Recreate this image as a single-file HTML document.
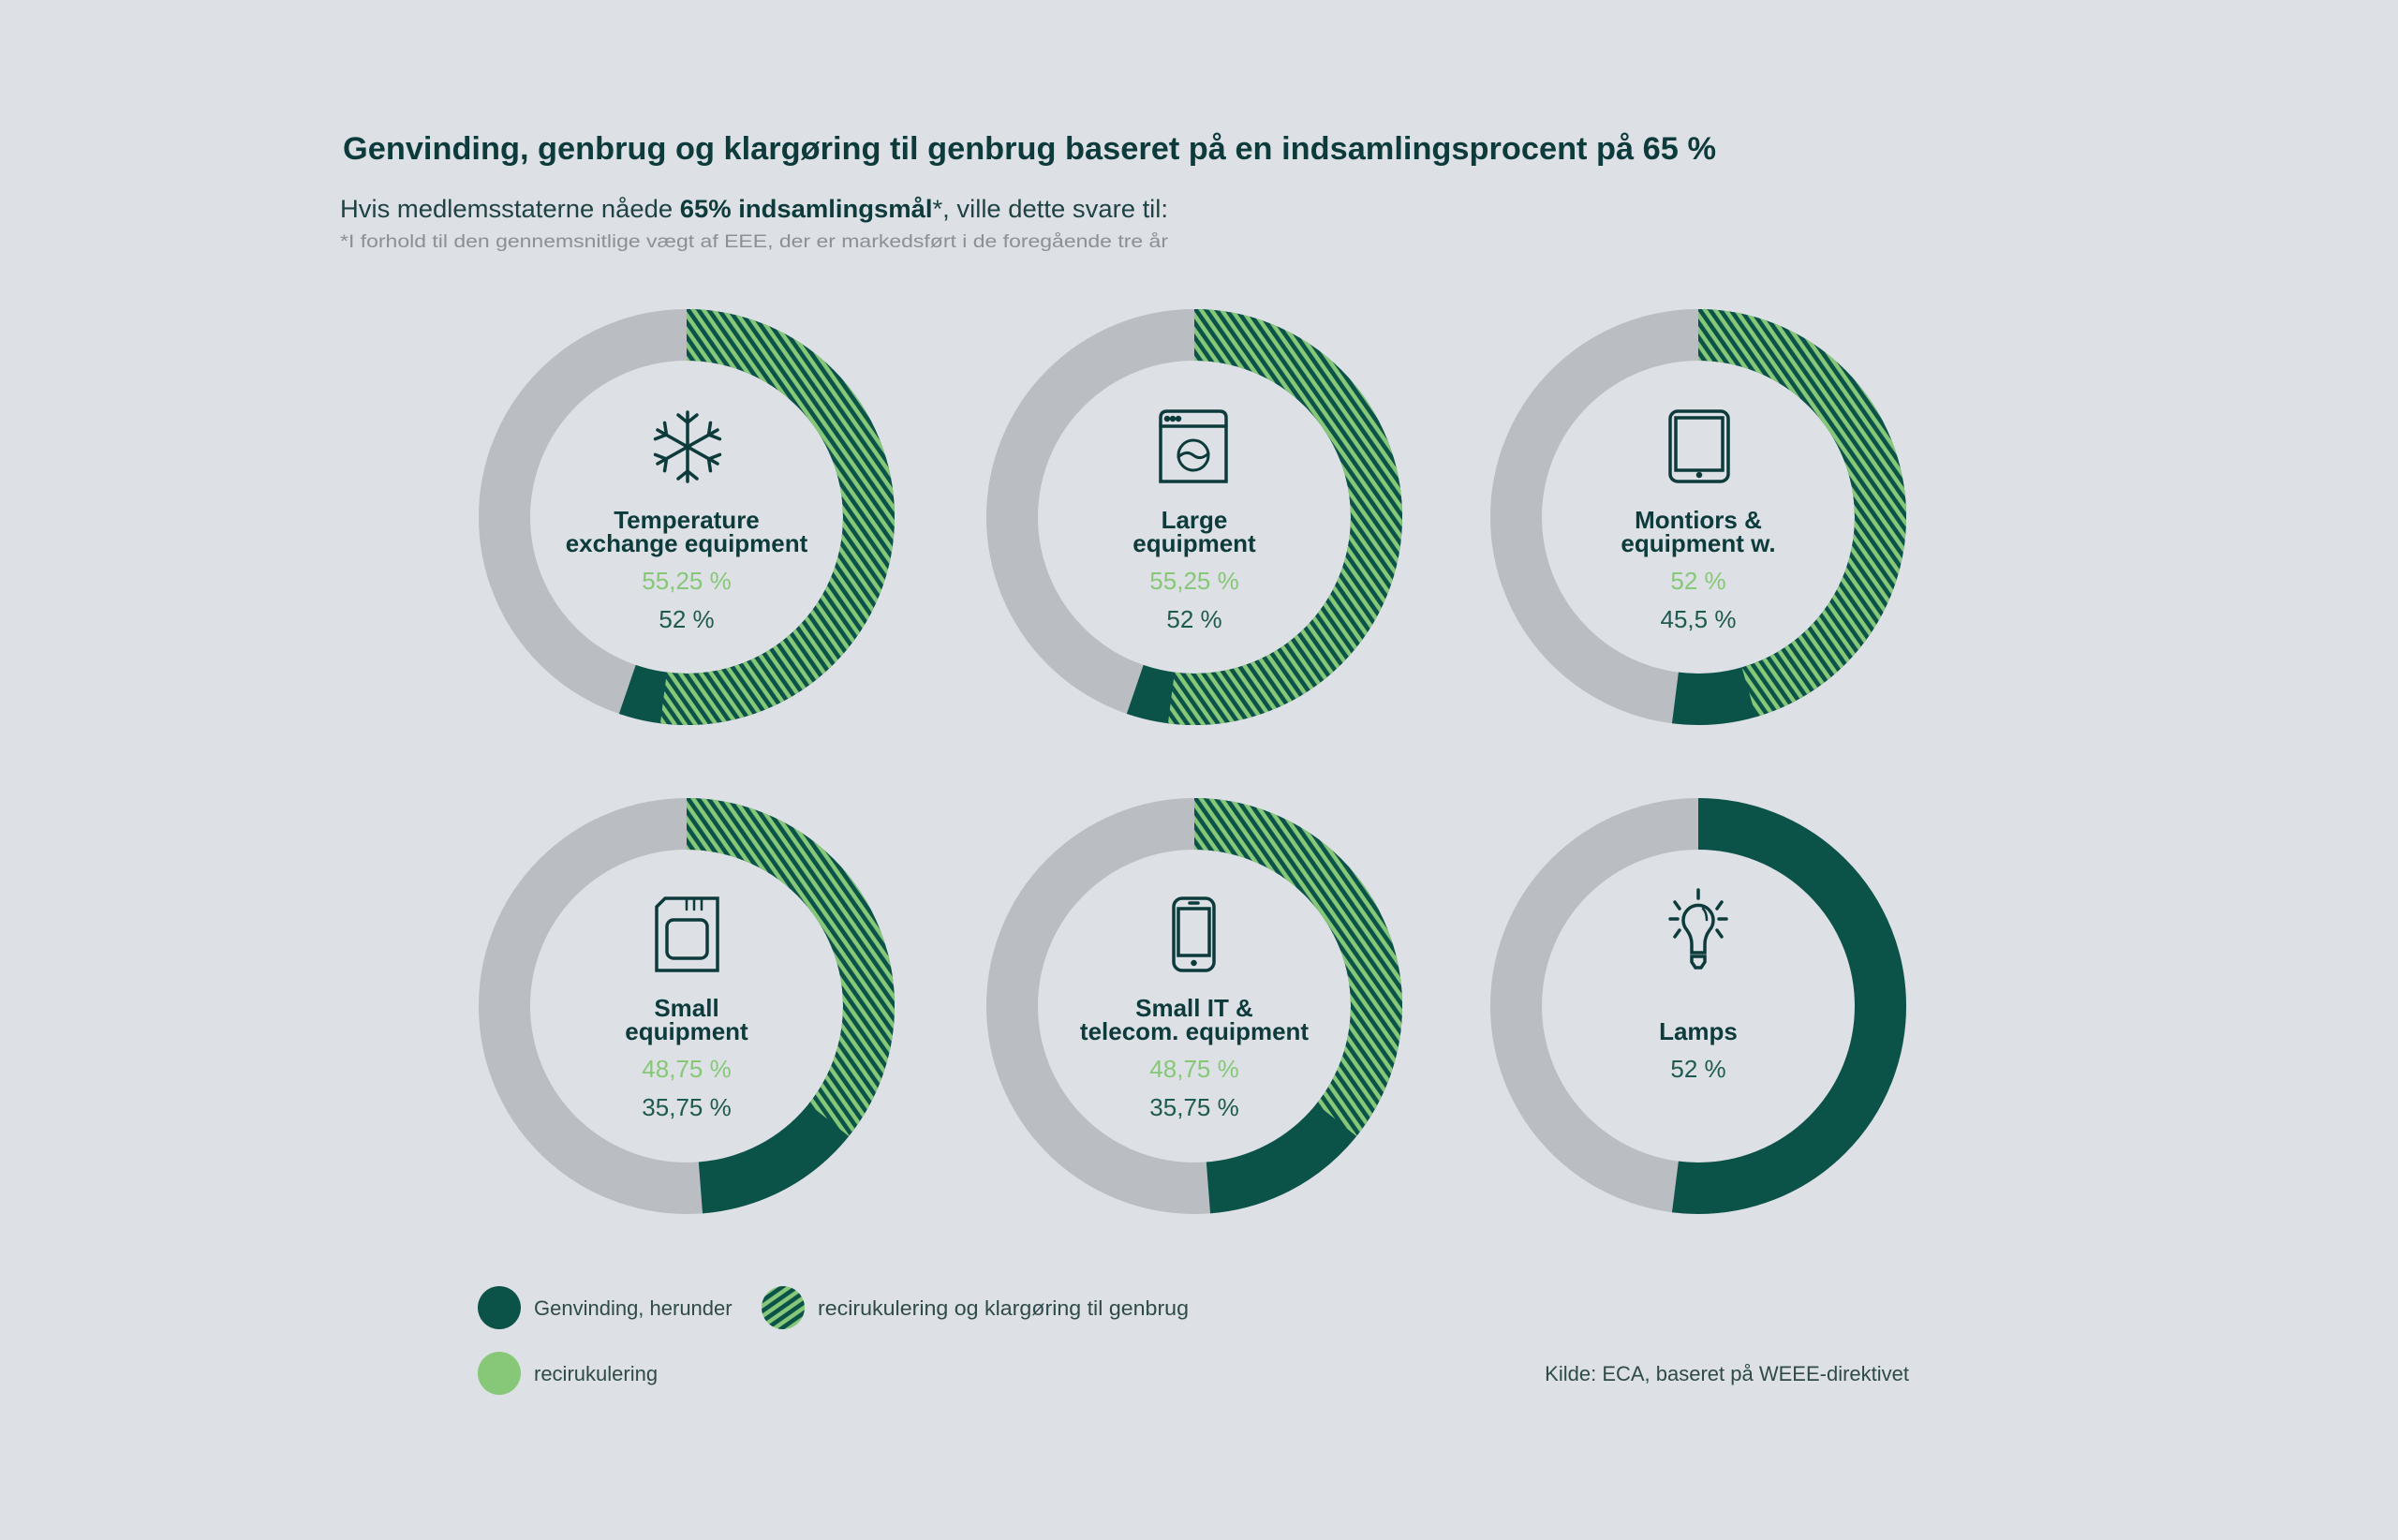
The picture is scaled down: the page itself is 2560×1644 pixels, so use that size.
<!DOCTYPE html>
<html><head><meta charset="utf-8"><style>
html,body{margin:0;padding:0;background:#dde0e4}
svg{display:block}
text{font-family:"Liberation Sans",sans-serif}
</style></head><body>
<svg width="2560" height="1644" viewBox="0 0 2560 1644" xmlns="http://www.w3.org/2000/svg">
<defs>
<pattern id="h" patternUnits="userSpaceOnUse" width="9" height="9" patternTransform="rotate(-35)">
<rect width="9" height="9" fill="#86c878"/><rect width="9" height="4.6" fill="#0b5249"/>
</pattern>
</defs>
<rect width="2560" height="1644" fill="#dde0e4"/>
<text x="366" y="170" font-size="34" font-weight="bold" fill="#0d3b3c" textLength="1466" lengthAdjust="spacingAndGlyphs">Genvinding, genbrug og klargøring til genbrug baseret på en indsamlingsprocent på 65 %</text>
<text x="363" y="232" font-size="27" fill="#1f4244" textLength="884" lengthAdjust="spacingAndGlyphs">Hvis medlemsstaterne nåede <tspan font-weight="bold" fill="#0d3b3c">65% indsamlingsmål</tspan>*, ville dette svare til:</text>
<text x="363" y="264" font-size="19" fill="#8b9095" textLength="884" lengthAdjust="spacingAndGlyphs">*I forhold til den gennemsnitlige vægt af EEE, der er markedsført i de foregående tre år</text>

<g id="donuts" fill="none" stroke-width="55">
<g transform="translate(733,552) rotate(-90)">
<circle r="194.5" stroke="#babdc1"/>
<circle r="194.5" stroke="#0b5249" stroke-dasharray="675.2 1222.08"/>
<circle r="194.5" stroke="url(#h)" stroke-dasharray="635.5 1222.08"/>
</g>
<g transform="translate(1275,552) rotate(-90)">
<circle r="194.5" stroke="#babdc1"/>
<circle r="194.5" stroke="#0b5249" stroke-dasharray="675.2 1222.08"/>
<circle r="194.5" stroke="url(#h)" stroke-dasharray="635.5 1222.08"/>
</g>
<g transform="translate(1813,552) rotate(-90)">
<circle r="194.5" stroke="#babdc1"/>
<circle r="194.5" stroke="#0b5249" stroke-dasharray="635.5 1222.08"/>
<circle r="194.5" stroke="url(#h)" stroke-dasharray="556.0 1222.08"/>
</g>
<g transform="translate(733,1074) rotate(-90)">
<circle r="194.5" stroke="#babdc1"/>
<circle r="194.5" stroke="#0b5249" stroke-dasharray="595.8 1222.08"/>
<circle r="194.5" stroke="url(#h)" stroke-dasharray="436.9 1222.08"/>
</g>
<g transform="translate(1275,1074) rotate(-90)">
<circle r="194.5" stroke="#babdc1"/>
<circle r="194.5" stroke="#0b5249" stroke-dasharray="595.8 1222.08"/>
<circle r="194.5" stroke="url(#h)" stroke-dasharray="436.9 1222.08"/>
</g>
<g transform="translate(1813,1074) rotate(-90)">
<circle r="194.5" stroke="#babdc1"/>
<circle r="194.5" stroke="#0b5249" stroke-dasharray="635.5 1222.08"/>
</g>
</g>

<g text-anchor="middle" font-size="26">
<text x="733" y="564" font-weight="bold" fill="#0d3b3c">Temperature</text>
<text x="733" y="589" font-weight="bold" fill="#0d3b3c">exchange equipment</text>
<text x="733" y="629" fill="#86c878">55,25 %</text>
<text x="733" y="670" fill="#1f5a52">52 %</text>

<text x="1275" y="564" font-weight="bold" fill="#0d3b3c">Large</text>
<text x="1275" y="589" font-weight="bold" fill="#0d3b3c">equipment</text>
<text x="1275" y="629" fill="#86c878">55,25 %</text>
<text x="1275" y="670" fill="#1f5a52">52 %</text>

<text x="1813" y="564" font-weight="bold" fill="#0d3b3c">Montiors &amp;</text>
<text x="1813" y="589" font-weight="bold" fill="#0d3b3c">equipment w.</text>
<text x="1813" y="629" fill="#86c878">52 %</text>
<text x="1813" y="670" fill="#1f5a52">45,5 %</text>

<text x="733" y="1085" font-weight="bold" fill="#0d3b3c">Small</text>
<text x="733" y="1110" font-weight="bold" fill="#0d3b3c">equipment</text>
<text x="733" y="1150" fill="#86c878">48,75 %</text>
<text x="733" y="1191" fill="#1f5a52">35,75 %</text>

<text x="1275" y="1085" font-weight="bold" fill="#0d3b3c">Small IT &amp;</text>
<text x="1275" y="1110" font-weight="bold" fill="#0d3b3c">telecom. equipment</text>
<text x="1275" y="1150" fill="#86c878">48,75 %</text>
<text x="1275" y="1191" fill="#1f5a52">35,75 %</text>

<text x="1813" y="1110" font-weight="bold" fill="#0d3b3c">Lamps</text>
<text x="1813" y="1150" fill="#1f5a52">52 %</text>
</g>

<g fill="none" stroke="#0d3b3c" stroke-width="3.5" stroke-linecap="round">
<g transform="translate(734,477)">
<line x1="0" y1="-37" x2="0" y2="37"/>
<line x1="-32" y1="-18" x2="32" y2="18"/>
<line x1="-32" y1="18" x2="32" y2="-18"/>
<polyline points="-10,-34 0,-26 10,-34"/>
<polyline points="-10,-34 0,-26 10,-34" transform="rotate(60)"/>
<polyline points="-10,-34 0,-26 10,-34" transform="rotate(120)"/>
<polyline points="-10,-34 0,-26 10,-34" transform="rotate(180)"/>
<polyline points="-10,-34 0,-26 10,-34" transform="rotate(240)"/>
<polyline points="-10,-34 0,-26 10,-34" transform="rotate(300)"/>
</g>
<path d="M1239,514 V446 q0,-7 7,-7 H1302 q7,0 7,7 V514 Z"/>
<line x1="1239" y1="455" x2="1309" y2="455"/>
<circle cx="1274" cy="486" r="16" stroke-width="3"/>
<path d="M1258,488 q8,-8 16,-2 q8,6 16,-2" stroke-width="3"/>
<circle cx="1246" cy="447" r="1.5" fill="#0d3b3c"/><circle cx="1252" cy="447" r="1.5" fill="#0d3b3c"/><circle cx="1258" cy="447" r="1.5" fill="#0d3b3c"/>
<rect x="1783" y="439" width="62" height="75" rx="8"/>
<rect x="1789" y="446" width="50" height="56"/>
<circle cx="1814" cy="507" r="1.5" fill="#0d3b3c"/>
<path d="M701,1036 V968 L710,959 H766 V1036 Z"/>
<rect x="712" y="982" width="43" height="41" rx="7"/>
<line x1="733" y1="961" x2="733" y2="971" stroke-width="2.5"/><line x1="741" y1="961" x2="741" y2="971" stroke-width="2.5"/><line x1="749" y1="961" x2="749" y2="971" stroke-width="2.5"/>
<rect x="1253" y="959" width="43" height="77" rx="9"/>
<rect x="1258" y="970" width="33" height="50"/>
<line x1="1270" y1="964" x2="1279" y2="964"/>
<circle cx="1274.5" cy="1028" r="1.5" fill="#0d3b3c"/>
<path d="M1806,1017 L1806,1008 Q1806,1000 1801,993 A16,16 0 1 1 1825,993 Q1820,1000 1820,1008 L1820,1017 Z"/>
<path d="M1806,1021 h14 v6 l-4,6 h-6 l-4,-6 Z"/>
<path d="M1818,970 q4,4 4,12" stroke-width="2.5"/>
<line x1="1813" y1="950" x2="1813" y2="959"/>
<line x1="1783" y1="981" x2="1791" y2="981"/><line x1="1835" y1="981" x2="1843" y2="981"/>
<line x1="1788" y1="963" x2="1793" y2="970"/><line x1="1838" y1="963" x2="1833" y2="970"/>
<line x1="1788" y1="1000" x2="1793" y2="993"/><line x1="1838" y1="1000" x2="1833" y2="993"/>
</g>

<circle cx="533" cy="1396" r="23" fill="#0b5249"/>
<text x="570" y="1404" font-size="22" fill="#2f4a4b">Genvinding, herunder</text>
<circle cx="836" cy="1396" r="23" fill="url(#h)"/>
<text x="873" y="1404" font-size="22" fill="#2f4a4b" textLength="396" lengthAdjust="spacingAndGlyphs">recirukulering og klargøring til genbrug</text>
<circle cx="533" cy="1466" r="23" fill="#86c878"/>
<text x="570" y="1474" font-size="22" fill="#2f4a4b">recirukulering</text>
<text x="2038" y="1474" font-size="22" fill="#2f4a4b" text-anchor="end">Kilde: ECA, baseret på WEEE-direktivet</text>
</svg>
</body></html>
